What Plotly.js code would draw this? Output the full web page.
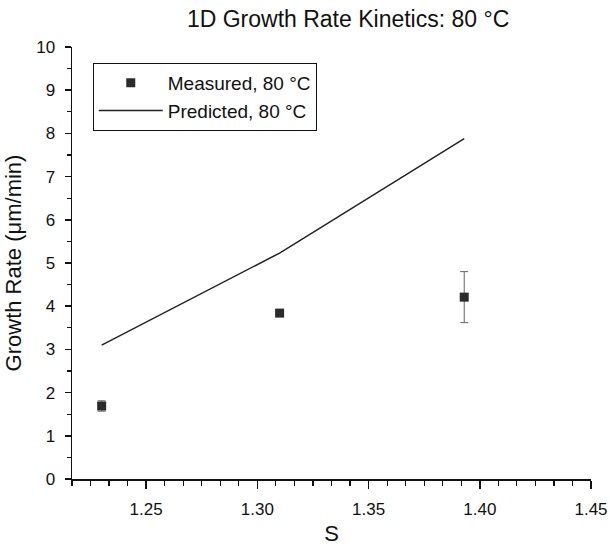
<!DOCTYPE html>
<html>
<head>
<meta charset="utf-8">
<script src="https://cdn.plot.ly/plotly-3.0.1.min.js"></script>
<style>html,body{margin:0;padding:0;background:#fff}#chart{width:610px;height:546px}</style>
</head>
<body>
<div id="chart"></div>
<script>
// Measured data
const measuredS = [1.23, 1.31, 1.393];
const measuredRate = [1.69, 3.84, 4.21];
const measuredErr = [0.12, 0.06, 0.59];
// Predicted data
const predictedS = [1.23, 1.31, 1.393];
const predictedRate = [3.10, 5.23, 7.88];

const FONT = 'Arial, "Liberation Sans", sans-serif';

const traces = [
  {
    x: measuredS, y: measuredRate, type: 'scatter', mode: 'markers',
    name: 'Measured, 80 \u00B0C',
    marker: {symbol: 'square', size: 9, color: '#2b2b2b'},
    error_y: {type: 'data', array: measuredErr, visible: true, color: '#666', thickness: 1, width: 4}
  },
  {
    x: predictedS, y: predictedRate, type: 'scatter', mode: 'lines',
    name: 'Predicted, 80 \u00B0C',
    line: {color: '#222', width: 1.5}
  }
];

const layout = {
  width: 610, height: 546,
  margin: {l: 72, r: 19, t: 47, b: 67},
  paper_bgcolor: '#fff', plot_bgcolor: '#fff',
  font: {family: FONT, color: '#111', size: 17},
  title: {text: '1D Growth Rate Kinetics: 80 \u00B0C', font: {size: 23, family: FONT, color: '#111'},
          x: 0.532, xref: 'paper', xanchor: 'center', y: 0.966, yref: 'container', yanchor: 'middle'},
  showlegend: true,
  legend: {x: 0.04, y: 0.963, xanchor: 'left', yanchor: 'top', bordercolor: '#111', borderwidth: 1,
           bgcolor: '#fff', font: {size: 19, family: FONT}, itemwidth: 64, tracegroupgap: 0},
  xaxis: {
    range: [1.216667, 1.45], tick0: 1.25, dtick: 0.05, tickformat: '.2f',
    showgrid: false, zeroline: false, showline: true, linecolor: '#111', linewidth: 1.5,
    ticks: 'outside', ticklen: 8, tickwidth: 1.5, tickcolor: '#111', ticklabelstandoff: 6,
    tickfont: {size: 17, family: FONT},
    minor: {tick0: 1.25, dtick: 0.05/6, ticks: 'outside', ticklen: 5, tickwidth: 1.2, tickcolor: '#111', showgrid: false},
    title: {text: 'S', font: {size: 22, family: FONT}, standoff: 12}
  },
  yaxis: {
    range: [0, 10], dtick: 1, tick0: 0,
    showgrid: false, zeroline: false, showline: true, linecolor: '#111', linewidth: 1.5,
    ticks: 'outside', ticklen: 6, tickwidth: 1.5, tickcolor: '#111', ticklabelstandoff: 6,
    tickfont: {size: 17, family: FONT},
    minor: {dtick: 0.5, ticks: 'outside', ticklen: 4, tickwidth: 1.2, tickcolor: '#111', showgrid: false},
    title: {text: 'Growth Rate (\u03BCm/min)', font: {size: 22, family: FONT}, standoff: 8}
  }
};

Plotly.newPlot('chart', traces, layout, {displayModeBar: false, staticPlot: true});
</script>
</body>
</html>
